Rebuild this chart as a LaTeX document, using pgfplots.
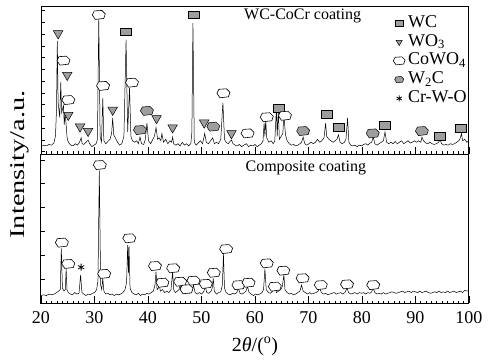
\documentclass[border=0pt]{standalone}
\usepackage{fontspec}
\setmainfont{Liberation Serif}
\usepackage{pgfplots}
\pgfplotsset{compat=1.18}
\usetikzlibrary{plotmarks}
\definecolor{mkgray}{gray}{0.62}
\pgfdeclareplotmark{cloud}{%
  \pgfpathmoveto{\pgfqpoint{-1.3\pgfplotmarksize}{0pt}}%
  \pgfpathlineto{\pgfqpoint{-0.9\pgfplotmarksize}{0.8\pgfplotmarksize}}%
  \pgfpathlineto{\pgfqpoint{0.6\pgfplotmarksize}{0.9\pgfplotmarksize}}%
  \pgfpathlineto{\pgfqpoint{1.3\pgfplotmarksize}{0.2\pgfplotmarksize}}%
  \pgfpathlineto{\pgfqpoint{1.0\pgfplotmarksize}{-0.7\pgfplotmarksize}}%
  \pgfpathlineto{\pgfqpoint{-0.7\pgfplotmarksize}{-0.9\pgfplotmarksize}}%
  \pgfpathclose
  \pgfusepathqfillstroke}
\pgfplotsset{
  xrdbase/.style={
    scale only axis, width=428pt, xmin=20, xmax=100, ymin=0, ymax=100,
    axis line style={line width=1pt},
    tick align=inside, xtick={20,30,...,100}, minor x tick num=9,
    xtick pos=left, ytick pos=left, yticklabels={},
    tick style={black, line width=0.8pt},
    xtick style={/pgfplots/major tick length=7pt, /pgfplots/minor tick length=2.5pt},
    ytick style={/pgfplots/major tick length=4pt},
    tick label style={font=\fontsize{18}{20}\selectfont},
    xticklabel style={yshift=-5pt},
    /pgf/number format/assume math mode=true,
  },
  wcm/.style={only marks, mark=square*, mark size=4.2pt, mark options={fill=mkgray, draw=black, line width=0.5pt, xscale=1.3, yscale=0.9}},
  wom/.style={only marks, mark=triangle*, mark size=5.5pt, mark options={fill=mkgray, draw=black, line width=0.5pt, rotate=180}},
  cwm/.style={only marks, mark=cloud, mark size=5pt, mark options={fill=white, draw=black, line width=0.6pt}},
  w2m/.style={only marks, mark=cloud, mark size=5pt, mark options={fill=mkgray, draw=black, line width=0.5pt}},
}
\begin{document}
\begin{tikzpicture}
\useasboundingbox (-41pt,-56pt) rectangle (448pt,303pt);
% ---------------- upper panel
\begin{axis}[xrdbase, at={(0pt,149pt)}, anchor=south west, height=147pt,
  xticklabels={}, ytick={1.5,9.5,...,97.5},
  legend cell align=left,
  legend image code/.code={\draw[#1] plot coordinates {(0cm,0cm)};},
  legend style={draw=none, fill=none, at={(rel axis cs:0.995,0.945)}, anchor=north east,
    font=\fontsize{18}{19}\selectfont, row sep=2.8pt, column sep=3pt, inner sep=0pt,
    nodes={inner sep=0pt, text height=12pt, text depth=4pt}},
]
\addplot[black, line width=0.5pt, forget plot] coordinates {
(20.0,5) (20.5,6) (21.0,5.5) (21.5,6.5) (22.0,6) (22.4,7.5) (22.7,12) (22.9,30) (23.05,77) (23.2,35) (23.35,30) (23.5,25) (23.7,49) (23.85,28) (24.0,30) (24.2,33) (24.35,20) (24.5,28) (24.7,20) (24.85,12) (25.0,9) (25.3,7) (25.6,6) (26.0,5.5) (26.4,7) (26.8,6) (27.2,8) (27.5,11) (27.7,7) (28.0,6.5) (28.4,8) (28.8,9.5) (29.1,7) (29.5,5) (29.9,6) (30.3,7) (30.55,10) (30.8,92.5) (31.05,12) (31.3,8) (31.55,38) (31.75,9) (32.1,7) (32.5,8.5) (32.9,10) (33.2,14) (33.4,24.5) (33.6,13) (33.9,11) (34.3,8) (34.7,6) (35.1,7) (35.5,12) (35.9,77.6) (36.2,15) (36.55,45) (36.8,12) (37.1,9) (37.5,8) (37.9,9) (38.2,7) (38.5,11.5) (38.8,7) (39.2,6.5) (39.5,10) (39.8,21) (40.1,9) (40.5,7) (40.9,10) (41.2,12) (41.5,18) (41.8,10) (42.1,11) (42.4,9) (42.6,14) (42.9,8) (43.3,10) (43.7,7) (44.1,9) (44.4,8) (44.6,11.5) (44.8,7) (45.2,6) (45.6,7) (46.0,5.5) (46.4,8) (46.8,6) (47.2,7) (47.6,5.5) (48.0,7) (48.2,15) (48.4,89) (48.65,8) (49.0,6) (49.4,7.5) (49.8,9) (50.2,7) (50.6,14) (50.9,8) (51.3,7) (51.7,9) (52.1,11) (52.4,7) (52.8,8) (53.2,7) (53.6,10) (54.0,35) (54.3,10) (54.6,8) (55.0,7) (55.3,8.5) (55.6,9.5) (55.9,7) (56.3,6) (56.7,5.5) (57.1,6.5) (57.5,5) (57.9,6) (58.4,7) (58.8,5) (59.2,6) (59.6,5.5) (60.0,6.5) (60.4,5) (60.8,6) (61.2,7) (61.5,9) (61.7,21) (61.85,12) (62.0,23) (62.2,11) (62.6,8) (63.0,9) (63.4,7) (63.7,9) (64.0,31) (64.15,12) (64.35,30) (64.55,10) (64.9,12) (65.2,14) (65.4,26.5) (65.7,13) (66.0,9) (66.4,7) (66.8,6) (67.2,6.5) (67.6,5.5) (68.0,6) (68.4,7) (68.7,8) (69.0,11.5) (69.3,7) (69.7,6) (70.1,7) (70.5,8) (70.9,7) (71.3,8) (71.7,10) (72.1,8) (72.5,9) (72.9,11) (73.2,21) (73.4,12) (73.8,10) (74.2,9) (74.6,8) (75.0,9) (75.3,10) (75.6,13) (75.9,8) (76.3,7) (76.7,8) (77.0,10) (77.3,24.5) (77.55,8) (77.9,6) (78.3,5.5) (78.7,6) (79.1,5) (79.5,6) (79.9,5.5) (80.3,6.5) (80.7,7) (81.1,6) (81.5,7.5) (81.8,8) (82.1,11.5) (82.4,7) (82.8,6) (83.2,7) (83.6,8) (84.0,9) (84.3,15) (84.6,8) (85.0,7) (85.4,8) (85.8,7) (86.2,8.5) (86.6,7) (87.0,8) (87.4,9) (87.8,7) (88.2,8) (88.6,9) (89.0,7.5) (89.4,8) (89.8,9) (90.2,8) (90.6,9) (91.0,8) (91.2,11.5) (91.5,9) (91.9,7.5) (92.3,7) (92.7,8) (93.1,7) (93.5,6.5) (93.9,7) (94.3,8) (94.6,9.5) (94.9,7) (95.3,6) (95.7,6.5) (96.1,6) (96.5,7) (96.9,6.5) (97.3,7) (97.7,8) (98.1,9) (98.4,11) (98.6,14) (98.8,9) (99.2,10) (99.6,8) (100,9)
};
\addplot[wcm, forget plot] coordinates {(35.8,83.2) (48.5,94.6) (64.4,31) (73.4,27) (75.6,18.1) (84.3,19.7) (94.5,12.2) (98.5,17.5)};
\addplot[wom, forget plot] coordinates {(23.2,82) (24.9,53.7) (25.1,26.5) (27.3,18.6) (28.8,15.6) (33.4,30) (41.6,24.3) (44.6,18) (50.5,21.3) (55.6,14)};
\addplot[cwm, forget plot] coordinates {(24.2,63.5) (25.1,36.7) (30.8,94.6) (31.6,46.3) (37.0,48.5) (54.1,41.3) (58.6,14) (62.2,25) (65.6,26)};
\addplot[w2m, forget plot] coordinates {(38.5,16.3) (39.8,29.3) (52.2,18.6) (69.0,15.6) (82.0,14) (91.2,15.6)};
\addlegendimage{only marks, mark=square*, mark size=3pt, mark options={fill=mkgray, draw=black, line width=0.5pt, xscale=1.2, yscale=0.85}}
\addlegendentry{WC}
\addlegendimage{only marks, mark=triangle*, mark size=3.5pt, mark options={fill=mkgray, draw=black, line width=0.5pt, rotate=180}}
\addlegendentry{WO\textsubscript{3}}
\addlegendimage{only marks, mark=cloud, mark size=4.5pt, mark options={fill=white, draw=black, line width=0.6pt}}
\addlegendentry{CoWO\textsubscript{4}}
\addlegendimage{only marks, mark=cloud, mark size=3.5pt, mark options={fill=mkgray, draw=black, line width=0.5pt}}
\addlegendentry{W\textsubscript{2}C}
\addlegendimage{only marks, mark=asterisk, mark size=3pt, mark options={draw=black, line width=0.8pt}}
\addlegendentry{Cr-W-O}
\node[font=\fontsize{16}{18}\selectfont, anchor=center] at (axis cs:68.9,94) {WC-CoCr coating};
\end{axis}
% ---------------- lower panel
\begin{axis}[xrdbase, at={(0pt,0pt)}, anchor=south west, height=149pt,
  ytick={16,32,...,96},
  xlabel={2{\itshape θ}/(\textsuperscript{o})},
  xlabel style={font=\fontsize{20}{22}\selectfont, at={(axis description cs:0.5,-0.29)}, anchor=center},
  ylabel={Intensity/a.u.},
  ylabel style={font=\fontsize{21}{24}\selectfont, at={(rel axis cs:-0.05,0.93)}, anchor=center, xscale=1.35},
]
\addplot[black, line width=0.5pt] coordinates {
(20.0,5) (20.5,5.5) (21.0,5) (21.5,6) (22.0,5.5) (22.5,6) (22.9,7) (23.3,8) (23.6,9) (23.8,36.7) (24.0,10) (24.3,8) (24.55,9) (24.7,23) (24.85,9) (25.1,7) (25.5,6) (25.9,5.5) (26.3,7) (26.7,6) (27.1,6.5) (27.4,18.8) (27.65,7) (28.0,6) (28.4,5) (28.8,6) (29.2,5.5) (29.6,6.5) (30.0,7) (30.4,9) (30.65,15) (30.9,89) (31.15,12) (31.35,9) (31.55,16.5) (31.75,8) (32.1,6) (32.5,6.5) (32.9,5.5) (33.3,6) (33.7,5) (34.1,6) (34.5,5.5) (34.9,6) (35.3,7) (35.7,9) (36.0,14) (36.2,39) (36.35,20) (36.45,38) (36.65,10) (37.0,7) (37.4,6) (37.8,5.5) (38.2,6.5) (38.6,5) (39.0,6) (39.4,5.5) (39.8,6.5) (40.2,6) (40.6,7) (41.0,8) (41.3,12) (41.5,21) (41.7,9) (41.95,10) (42.1,13) (42.3,8) (42.7,9) (43.1,7) (43.5,8) (43.9,7) (44.3,9) (44.6,21) (44.8,9) (45.1,7) (45.5,8) (45.8,9) (46.0,12) (46.2,8) (46.6,7) (47.0,6) (47.2,8) (47.4,7) (47.8,6.5) (48.2,8) (48.5,12) (48.8,7) (49.2,6) (49.6,7) (50.0,6) (50.4,7.5) (50.7,11) (51.0,7) (51.4,6.5) (51.8,8) (52.0,10) (52.2,16.5) (52.4,8) (52.8,6) (53.2,7) (53.6,7.5) (53.9,12) (54.1,33) (54.3,10) (54.6,7) (55.0,6) (55.4,5.5) (55.8,6.5) (56.2,6) (56.6,7) (56.9,10) (57.2,6.5) (57.6,6) (58.0,7) (58.3,8) (58.6,11) (58.9,7) (59.3,6) (59.7,5) (60.1,6) (60.5,5.5) (60.9,6) (61.3,7) (61.6,9) (61.85,23) (62.1,9) (62.5,7) (62.9,6.5) (63.3,8) (63.7,12) (64.0,7) (64.4,8) (64.8,9) (65.1,11) (65.4,18.8) (65.6,9) (66.0,7) (66.4,6) (66.8,6.5) (67.2,5.5) (67.6,6) (68.0,7) (68.4,8) (68.7,12) (69.0,8) (69.4,7) (69.8,6) (70.2,7) (70.6,6) (71.0,6.5) (71.4,7) (71.8,8) (72.1,10) (72.4,7) (72.8,6) (73.2,6.5) (73.6,5.5) (74.0,6) (74.4,6.5) (74.8,7) (75.2,6) (75.6,6.5) (76.0,7) (76.4,6) (76.8,7) (77.2,10) (77.5,7) (77.9,6) (78.3,6.5) (78.7,7) (79.1,6) (79.5,7) (79.9,6.5) (80.3,7) (80.7,6) (81.1,7) (81.5,6.5) (81.8,7.5) (82.1,10) (82.4,7) (82.8,6) (83.2,6.5) (83.6,6) (84.0,7) (84.4,6) (84.8,6.5) (85.2,7) (85.6,7.5) (86.0,7) (86.4,6.5) (86.8,7) (87.2,7.5) (87.6,8) (88.0,7) (88.4,7.5) (88.8,8) (89.2,7) (89.6,8) (90.0,7.5) (90.4,7) (90.8,8) (91.2,7) (91.6,7.5) (92.0,8) (92.4,7) (92.8,6.5) (93.2,7) (93.6,7.5) (94.0,7) (94.4,8) (94.8,7) (95.2,7.5) (95.6,7) (96.0,8) (96.4,7) (96.8,7.5) (97.2,8) (97.6,7) (98.0,7.5) (98.4,8) (98.8,7) (99.2,8.5) (99.6,8) (100,8.5)
};
\addplot[cwm] coordinates {(23.9,40.5) (25.1,26.2) (31.0,92.6) (31.8,19.5) (36.5,43.4) (41.3,24.8) (42.7,13.6) (44.7,23.3) (46.0,14.3) (47.2,9.2) (48.5,15) (50.8,12.8) (52.3,20.3) (54.6,36.2) (56.9,12) (58.8,13.6) (62.2,26.6) (63.7,11) (65.3,21.7) (68.9,16.6) (72.3,12) (77.2,12.5) (82.1,12)};
\addplot[only marks, mark=asterisk, mark size=3.5pt, mark options={draw=black, line width=0.8pt}] coordinates {(27.5,24)};
\node[font=\fontsize{16}{18}\selectfont, anchor=center] at (axis cs:69.5,90.6) {Composite coating};
\end{axis}
\end{tikzpicture}
\end{document}
